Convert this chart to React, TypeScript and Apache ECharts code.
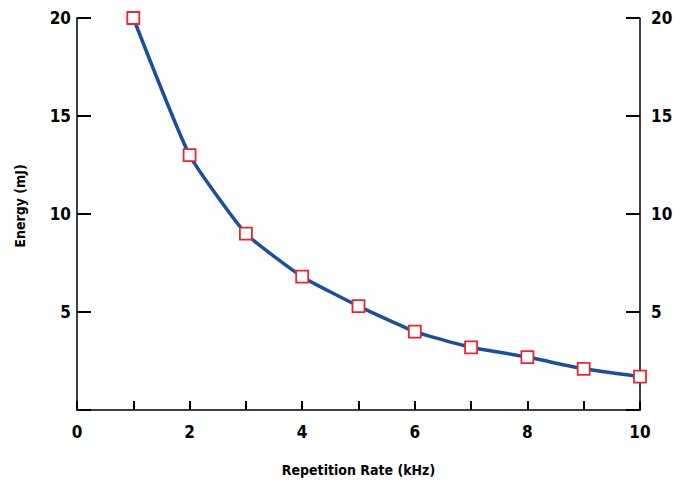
import React, { useEffect, useRef } from "react";
import * as echarts from "echarts";

const repRateKHz = [1, 2, 3, 4, 5, 6, 7, 8, 9, 10];
const energyMJ = [20, 13, 9, 6.8, 5.3, 4.0, 3.2, 2.7, 2.1, 1.7];
const xAxisName = "Repetition Rate (kHz)";
const yAxisName = "Energy (mJ)";

const FONT = "'DejaVu Sans Condensed', 'Liberation Sans Narrow', sans-serif";

export default function App() {
  const ref = useRef<HTMLDivElement>(null);
  useEffect(() => {
    if (!ref.current) return;
    const chart = echarts.init(ref.current, null, { renderer: "svg" });
    const yCommon = {
      type: "value",
      min: 0,
      max: 20,
      interval: 5,
      splitLine: { show: false },
      axisLine: { show: true, lineStyle: { color: "#000", width: 1.5 } },
      axisTick: { show: true, inside: true, length: 14, lineStyle: { color: "#000", width: 2 } },
    };
    chart.setOption({
      animation: false,
      backgroundColor: "#fff",
      grid: { left: 77, right: 34, top: 18, bottom: 72, outerBoundsMode: "none", containLabel: false },
      xAxis: {
        type: "value",
        min: 0,
        max: 10,
        interval: 1,
        name: xAxisName,
        nameLocation: "middle",
        nameGap: 53,
        nameTextStyle: { fontFamily: FONT, fontWeight: "bold", fontSize: 14, color: "#000" },
        splitLine: { show: false },
        axisLine: { show: true, onZero: false, lineStyle: { color: "#000", width: 1.5 } },
        axisTick: { show: true, inside: true, length: 9, lineStyle: { color: "#000", width: 2 } },
        axisLabel: {
          margin: 13,
          fontFamily: FONT,
          fontWeight: "bold",
          fontSize: 17,
          color: "#000",
          formatter: (v: number) => (v % 2 === 0 ? String(v) : ""),
        },
      },
      yAxis: [
        {
          ...yCommon,
          position: "left",
          name: yAxisName,
          nameLocation: "middle",
          nameGap: 50,
          nameTextStyle: { fontFamily: FONT, fontWeight: "bold", fontSize: 14, color: "#000", padding: [0, 0, 0, 16] },
          axisLabel: {
            margin: 6,
            fontFamily: FONT,
            fontWeight: "bold",
            fontSize: 17,
            color: "#000",
            formatter: (v: number) => (v === 0 ? "" : String(v)),
          },
        },
        {
          ...yCommon,
          position: "right",
          axisLabel: {
            margin: 11,
            fontFamily: FONT,
            fontWeight: "bold",
            fontSize: 17,
            color: "#000",
            formatter: (v: number) => (v === 0 ? "" : String(v)),
          },
        },
      ],
      series: [
        {
          type: "line",
          yAxisIndex: 0,
          data: repRateKHz.map((x, i) => [x, energyMJ[i]]),
          smooth: 0.15,
          lineStyle: { color: "#1a4f9f", width: 3.5 },
          symbol: "rect",
          symbolSize: 12,
          itemStyle: { color: "#fff", borderColor: "#e8262f", borderWidth: 1.8 },
          z: 3,
        },
      ],
    });
    return () => chart.dispose();
  }, []);
  return <div ref={ref} style={{ position: "absolute", left: 0, top: 0, width: 674, height: 482 }} />;
}
